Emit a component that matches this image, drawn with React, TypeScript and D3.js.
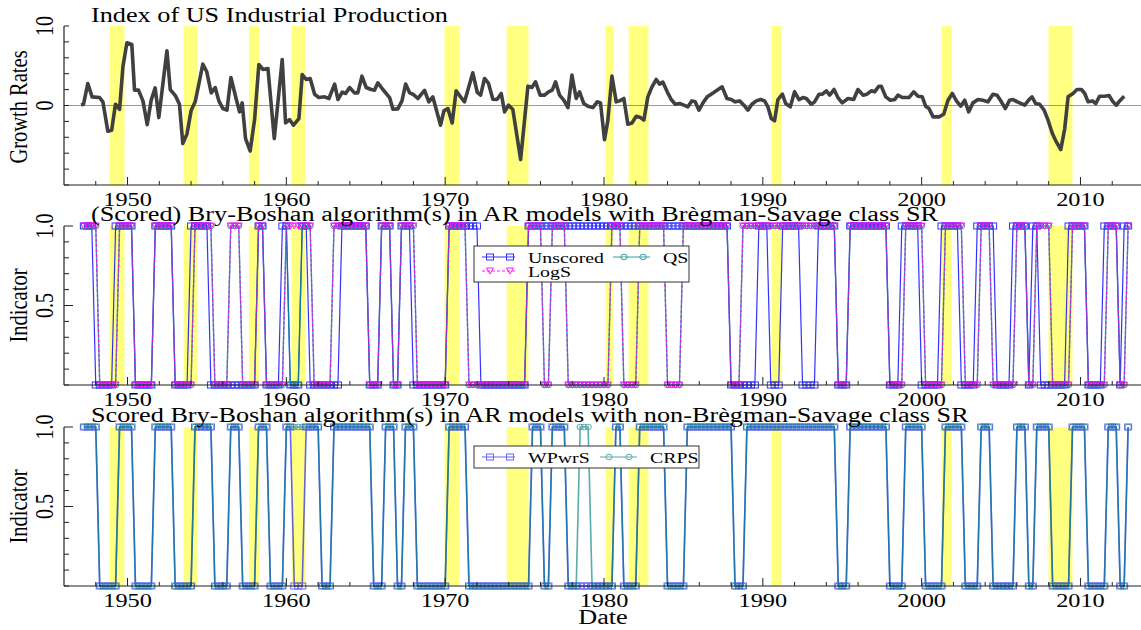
import React from 'react';
import * as d3 from 'd3';

// NBER recessions (decimal years)
const recessions: [number, number][] = [
  [1948.87, 1949.81], [1953.53, 1954.39], [1957.64, 1958.29], [1960.33, 1961.19],
  [1969.96, 1970.89], [1973.87, 1975.25], [1980.1, 1980.58], [1981.55, 1982.8],
  [1990.55, 1991.16], [2001.26, 2001.89], [2007.99, 2009.5],
];

// growth rates of the industrial production index (vertices of the line)
const growthDates = [
  1947.08, 1947.23, 1947.5, 1947.77, 1948.24, 1948.45, 1948.76, 1949.0, 1949.24, 1949.5,
  1949.71, 1949.96, 1950.27, 1950.44, 1950.69, 1950.97, 1951.24, 1951.49, 1951.74, 1951.97,
  1952.48, 1952.69, 1953.02, 1953.27, 1953.48, 1953.74, 1954.01, 1954.26, 1954.53, 1954.74,
  1954.99, 1955.27, 1955.52, 1955.75, 1956.0, 1956.26, 1956.51, 1956.8, 1957.05, 1957.22,
  1957.43, 1957.72, 1958.0, 1958.27, 1958.52, 1958.84, 1959.24, 1959.74, 1959.95, 1960.2,
  1960.45, 1960.79, 1961.0, 1961.25, 1961.5, 1961.78, 1962.05, 1962.41, 1962.68, 1963.04,
  1963.25, 1963.52, 1963.73, 1963.98, 1964.29, 1964.5, 1964.76, 1965.03, 1965.34, 1965.55,
  1965.76, 1966.08, 1966.5, 1966.71, 1967.02, 1967.28, 1967.51, 1967.76, 1967.97, 1968.28,
  1968.7, 1968.97, 1969.22, 1969.71, 1969.92, 1970.17, 1970.44, 1970.69, 1970.97, 1971.22,
  1971.74, 1972.02, 1972.23, 1972.48, 1972.73, 1973.0, 1973.26, 1973.53, 1973.74, 1973.99,
  1974.26, 1974.75, 1975.21, 1975.46, 1975.69, 1975.98, 1976.26, 1976.51, 1976.74, 1976.95,
  1977.2, 1977.47, 1977.73, 1977.98, 1978.25, 1978.46, 1978.73, 1978.99, 1979.3, 1979.57,
  1979.78, 1980.03, 1980.24, 1980.5, 1980.77, 1980.98, 1981.25, 1981.5, 1981.76, 1982.03,
  1982.3, 1982.51, 1982.76, 1983.02, 1983.29, 1983.5, 1983.71, 1983.98, 1984.23, 1984.49,
  1984.76, 1985.03, 1985.28, 1985.53, 1985.74, 1985.98, 1986.23, 1986.5, 1986.75, 1987.07,
  1987.44, 1987.74, 1988.01, 1988.26, 1988.54, 1988.81, 1989.06, 1989.31, 1989.59, 1989.86,
  1990.11, 1990.32, 1990.53, 1990.74, 1990.95, 1991.23, 1991.44, 1991.73, 1992.0, 1992.28,
  1992.53, 1992.74, 1993.05, 1993.26, 1993.54, 1993.75, 1994.0, 1994.21, 1994.48, 1994.73,
  1995.0, 1995.36, 1995.72, 1995.99, 1996.31, 1996.56, 1996.83, 1997.04, 1997.31, 1997.46,
  1997.74, 1998.03, 1998.3, 1998.51, 1998.78, 1999.2, 1999.5, 1999.77, 2000.04, 2000.25,
  2000.46, 2000.72, 2001.09, 2001.39, 2001.66, 2001.93, 2002.19, 2002.46, 2002.71, 2002.96,
  2003.23, 2003.55, 2003.86, 2004.18, 2004.49, 2004.75, 2005.02, 2005.27, 2005.54, 2005.75,
  2006.03, 2006.49, 2006.76, 2006.95, 2007.18, 2007.43, 2007.71, 2007.96, 2008.23, 2008.48,
  2008.76, 2009.01, 2009.22, 2009.53, 2009.78, 2010.06, 2010.27, 2010.48, 2010.75, 2010.96,
  2011.21, 2011.53, 2011.8, 2012.05, 2012.26, 2012.47, 2012.75,
];
const growthValues = [
  0.04, 0.16, 2.77, 1.09, 1.0, 0.46, -3.24, -3.11, 0.16, -0.47,
  4.87, 7.9, 7.69, 1.93, 1.93, 0.58, -2.4, 0.67, 2.22, -1.52,
  6.89, 2.01, 1.21, 0.16, -4.79, -3.6, -0.59, 0.46, 3.1, 5.2,
  4.24, 1.59, 2.26, 0.58, -0.38, -0.59, 3.52, 1.17, -0.8, 0.33,
  -4.16, -5.72, -1.77, 5.16, 4.53, 4.66, -4.16, 5.79, -2.19, -1.77,
  -2.48, -1.64, 3.9, 3.27, 3.4, 1.42, 1.0, 1.09, 0.88, 2.69,
  0.75, 1.68, 1.51, 2.26, 1.59, 1.59, 3.69, 2.26, 2.01, 1.93,
  2.85, 2.01, 1.0, -0.47, -0.42, 0.58, 2.69, 1.59, 1.42, 0.88,
  1.9, 0.46, 1.09, -2.48, -0.68, -0.38, -2.19, 1.85, 1.09, 0.46,
  4.11, 1.64, 1.3, 3.4, 2.77, 0.79, 0.75, 1.51, -0.8, 0.04,
  -0.51, -6.8, 2.43, 2.26, 2.98, 1.3, 1.3, 1.72, 1.93, 2.98,
  1.3, 0.67, -0.26, 3.82, 0.88, 1.72, 0.25, -0.09, -0.26, 0.46,
  0.33, -4.29, -1.93, 3.69, 0.46, 0.58, 0.88, -2.35, -2.19, -1.35,
  -1.52, -1.85, 1.09, 2.35, 3.27, 2.69, 2.94, 1.72, 0.75, 0.16,
  0.25, 0.04, -0.17, 0.58, 0.46, -0.59, 0.33, 1.09, 1.42, 1.85,
  2.35, 0.88, 0.75, 0.46, 0.58, 0.04, -0.59, 0.16, 0.58, 0.75,
  0.58, -0.17, -1.64, -1.93, 0.75, 1.42, 0.25, -0.17, 1.72, 0.75,
  1.0, 0.88, 0.16, 0.46, 1.42, 1.42, 1.85, 1.3, 2.01, 1.0,
  0.33, 0.88, 0.75, 2.01, 1.3, 1.42, 1.85, 1.72, 2.43, 2.43,
  1.09, 0.67, 0.75, 1.3, 1.0, 1.0, 1.72, 1.17, 1.09, -0.09,
  -0.38, -1.43, -1.43, -1.1, 0.67, 1.51, 0.58, -0.09, 0.67, -0.8,
  0.33, 0.75, 0.67, 0.46, 1.42, 1.3, 0.46, -0.38, 0.67, 0.75,
  0.46, 0.04, 0.75, 1.09, 0.25, 0.16, -0.59, -1.85, -3.53, -4.58,
  -5.54, -2.9, 1.09, 1.51, 2.01, 2.01, 1.51, 0.46, 0.58, 0.25,
  1.17, 1.17, 1.26, 0.46, 0.04, 0.58, 1.17,
];

// quarterly dates of the indicator series
const quarterDates = d3.range(264).map((i) => 1947.25 + i * 0.25);

// turning points (first quarter of each new phase); every series starts in phase 1
const unscoredTurns = [
  1948.0, 1949.25, 1950.5, 1951.75, 1953.0, 1954.0, 1955.25, 1958.25, 1958.75, 1959.75,
  1960.25, 1961.0, 1961.5, 1963.5, 1965.25, 1966.0, 1966.75, 1967.25, 1968.0, 1970.25,
  1972.25, 1975.25, 1988.0, 1989.75, 1990.5, 1991.25, 1992.5, 1993.5, 1994.75, 1995.5,
  1998.0, 1998.75, 2000.0, 2001.25, 2002.5, 2003.5, 2004.75, 2005.75, 2006.75, 2007.0,
  2007.5, 2009.25, 2010.5, 2011.5, 2012.5, 2012.75,
];
const logsTurns = [
  1948.25, 1949.5, 1950.5, 1951.75, 1953.0, 1954.25, 1955.5, 1956.5, 1957.25, 1958.25,
  1958.75, 1960.0, 1961.75, 1963.0, 1965.25, 1966.0, 1966.75, 1967.25, 1968.25, 1970.25,
  1971.5, 1975.25, 1976.25, 1976.75, 1977.75, 1980.5, 1981.25, 1982.25, 1984.0, 1985.0,
  1988.0, 1988.75, 1994.75, 1995.5, 1998.0, 1999.0, 2000.25, 2001.5, 2002.75, 2003.75,
  2004.5, 2006.0, 2006.75, 2007.25, 2008.25, 2009.5, 2010.5, 2011.75, 2012.5, 2013.0,
];
const qsTurns = [
  1948.25, 1949.5, 1950.5, 1951.75, 1953.0, 1954.25, 1955.5, 1956.5, 1957.25, 1958.25,
  1958.75, 1960.0, 1960.25, 1961.0, 1961.75, 1963.0, 1965.25, 1966.0, 1966.75, 1967.25,
  1968.25, 1970.25, 1971.5, 1975.25, 1976.25, 1976.75, 1977.75, 1980.5, 1981.25, 1982.25,
  1984.0, 1985.0, 1988.0, 1988.75, 1994.75, 1995.5, 1998.0, 1999.0, 2000.25, 2001.5,
  2002.75, 2003.75, 2004.5, 2006.0, 2006.75, 2007.25, 2008.25, 2009.5, 2010.5, 2011.75,
  2012.5, 2013.0,
];
const wpwrsTurns = [
  1948.25, 1949.5, 1950.5, 1951.75, 1953.0, 1954.25, 1955.5, 1956.5, 1957.25, 1958.25,
  1959.0, 1960.0, 1960.5, 1961.25, 1962.25, 1963.0, 1965.5, 1966.25, 1967.0, 1967.5,
  1968.25, 1970.25, 1971.5, 1975.5, 1976.25, 1976.75, 1977.75, 1980.75, 1981.25, 1982.25,
  1984.0, 1985.25, 1988.25, 1989.0, 1994.75, 1995.5, 1998.0, 1999.0, 2000.25, 2001.5,
  2002.75, 2003.75, 2004.5, 2006.0, 2006.75, 2007.25, 2008.25, 2009.5, 2010.5, 2011.75,
  2012.5, 2013.0,
];
const crpsTurns = [
  1948.25, 1949.5, 1950.5, 1951.75, 1953.0, 1954.25, 1955.5, 1956.5, 1957.25, 1958.25,
  1959.0, 1960.0, 1962.25, 1963.0, 1965.5, 1966.25, 1967.0, 1967.5, 1968.25, 1970.25,
  1971.5, 1975.5, 1976.25, 1976.75, 1977.75, 1978.5, 1979.25, 1980.75, 1981.25, 1982.25,
  1984.0, 1985.25, 1988.25, 1989.0, 1994.75, 1995.5, 1998.0, 1999.0, 2000.25, 2001.5,
  2002.75, 2003.75, 2004.5, 2006.0, 2006.75, 2007.25, 2008.25, 2009.5, 2010.5, 2011.75,
  2012.5, 2013.0,
];

const xTicks = d3.range(1948, 2014, 2);
const xLabels = [1950, 1960, 1970, 1980, 1990, 2000, 2010];

const W = 1141;
const H = 630;
const SX = 1.28; // the picture is stretched horizontally
const FONT = '"Liberation Serif", "Times New Roman", Times, serif';
const YELLOW = '#ffff80';

const x = d3.scaleLinear().domain([1946, 2014]).range([64, 1144]);

type Pt = { t: number; v: number };
const indicator = (turns: number[]): Pt[] =>
  quarterDates.map((t) => ({ t, v: turns.filter((s) => s <= t + 1e-6).length % 2 === 0 ? 1 : 0 }));

function Txt(props: { x: number; y: number; size?: number; anchor?: string; rot?: boolean; children: any }) {
  const { x: tx, y: ty, size = 20, anchor = 'start', rot = false, children } = props;
  return (
    <text
      transform={`translate(${tx},${ty}) scale(${SX},1)${rot ? ' rotate(-90)' : ''}`}
      fontSize={size}
      textAnchor={anchor}
      fontFamily={FONT}
      fill="#000"
    >
      {children}
    </text>
  );
}

function marker(kind: string, cx: number, cy: number, color: string, key: string) {
  if (kind === 'square')
    return <rect key={key} x={cx - 3.5} y={cy - 3} width={7} height={6} fill="none" stroke={color} strokeWidth={1} />;
  if (kind === 'circle')
    return <ellipse key={key} cx={cx} cy={cy} rx={3.2} ry={2.8} fill="none" stroke={color} strokeWidth={1} />;
  return (
    <path key={key} d={`M${cx - 3.5},${cy - 3}L${cx + 3.5},${cy - 3}L${cx},${cy + 3}Z`} fill="none" stroke={color} strokeWidth={1} />
  );
}

function XAxis({ bottom }: { bottom: number }) {
  return (
    <g>
      <line x1={64} x2={W} y1={bottom} y2={bottom} stroke="#222" strokeWidth={1.2} />
      {xTicks.map((t) => (
        <line key={t} x1={x(t)} x2={x(t)} y1={bottom} y2={bottom - (t % 10 === 0 ? 8 : 4)} stroke="#222" />
      ))}
      {xLabels.map((t) => (
        <Txt key={t} x={x(t)} y={bottom + 21} size={19} anchor="middle">{t}</Txt>
      ))}
    </g>
  );
}

function Bands({ top, bottom }: { top: number; bottom: number }) {
  return (
    <g>
      {recessions.map(([a, b], i) => (
        <rect key={i} x={x(a)} y={top} width={x(b) - x(a)} height={bottom - top} fill={YELLOW} />
      ))}
    </g>
  );
}

type Series = { name: string; turns: number[]; color: string; kind: string; dash?: string; opacity: number; width: number };

function IndicatorPanel({ top, bottom, series, title }: { top: number; bottom: number; series: Series[]; title: string }) {
  const y = d3.scaleLinear().domain([0, 1]).range([bottom, top]);
  const yTicks = d3.range(0, 11).map((i) => i / 10);
  return (
    <g>
      <Bands top={top} bottom={bottom} />
      {series.map((s) => {
        const pts = indicator(s.turns);
        const line = d3.line<Pt>().x((d) => x(d.t)).y((d) => y(d.v));
        return (
          <g key={s.name} opacity={s.opacity}>
            <path d={line(pts) || ''} fill="none" stroke={s.color} strokeWidth={s.width} strokeDasharray={s.dash} />
            {pts.map((d, i) => marker(s.kind, x(d.t), y(d.v), s.color, s.name + i))}
          </g>
        );
      })}
      <line x1={64} x2={64} y1={top} y2={bottom} stroke="#222" strokeWidth={1.2} />
      {yTicks.map((t) => (
        <line key={t} x1={64} x2={64 + (Math.abs(t - 0.5) < 1e-6 || t === 1 ? 9 : 5)} y1={y(t)} y2={y(t)} stroke="#222" />
      ))}
      <Txt x={53} y={y(1)} rot anchor="middle">1.0</Txt>
      <Txt x={53} y={y(0.5)} rot anchor="middle">0.5</Txt>
      <Txt x={27} y={(top + bottom) / 2} rot anchor="middle" size={20.5}>Indicator</Txt>
      <XAxis bottom={bottom} />
    </g>
  );
}

const panel2: Series[] = [
  { name: 'Unscored', turns: unscoredTurns, color: '#0000ff', kind: 'square', opacity: 0.8, width: 1.2 },
  { name: 'QS', turns: qsTurns, color: '#008b8b', kind: 'circle', opacity: 0.8, width: 1.4 },
  { name: 'LogS', turns: logsTurns, color: '#ff00ff', kind: 'triangle', dash: '3,2', opacity: 0.9, width: 1.2 },
];
const panel3: Series[] = [
  { name: 'WPwrS', turns: wpwrsTurns, color: '#0000ff', kind: 'square', opacity: 0.6, width: 1.6 },
  { name: 'CRPS', turns: crpsTurns, color: '#008080', kind: 'circle', opacity: 0.65, width: 1.6 },
];

function LegendItem({ x0, x1, y, s, label, m }: { x0: number; x1: number; y: number; s: Series; label: string; m: number[] }) {
  return (
    <g>
      <g opacity={s.opacity}>
        <line x1={x0} x2={x1} y1={y} y2={y} stroke={s.color} strokeWidth={1.2} strokeDasharray={s.dash} />
        {m.map((mx, i) => marker(s.kind, mx, y, s.color, label + i))}
      </g>
      <Txt x={x1 + 13} y={y + 5.5} size={15.5}>{label}</Txt>
    </g>
  );
}

export default function App() {
  const top1 = 26;
  const bottom1 = 185;
  const y1 = d3.scaleLinear().domain([-10, 10]).range([bottom1, top1]);
  const growthLine = d3
    .line<number>()
    .x((_, i) => x(growthDates[i]))
    .y((d) => y1(d));

  return (
    <svg width={W} height={H} style={{ position: 'absolute', left: 0, top: 0, background: '#fff' }}>
      {/* panel 1 */}
      <Bands top={top1} bottom={bottom1} />
      <line x1={64} x2={W} y1={y1(0)} y2={y1(0)} stroke="#999" strokeWidth={1} />
      <path d={growthLine(growthValues) || ''} fill="none" stroke="#404040" strokeWidth={3.6} strokeLinejoin="round" />
      <line x1={64} x2={64} y1={top1} y2={bottom1} stroke="#222" strokeWidth={1.2} />
      {d3.range(-10, 11, 2).map((t) => (
        <line key={t} x1={64} x2={69} y1={y1(t)} y2={y1(t)} stroke="#222" />
      ))}
      <Txt x={53} y={y1(10)} rot anchor="middle">10</Txt>
      <Txt x={53} y={y1(0)} rot anchor="middle">0</Txt>
      <Txt x={27} y={107} rot anchor="middle" size={20.5}>Growth Rates</Txt>
      <XAxis bottom={bottom1} />

      {/* panel 2 */}
      <IndicatorPanel top={226} bottom={385} series={panel2} title="" />
      <rect x={474} y={246} width={215} height={36} fill="#fff" stroke="#333" strokeWidth={1} />
      <LegendItem x0={482} x1={515} y={257} s={panel2[0]} label="Unscored" m={[490, 510]} />
      <LegendItem x0={613} x1={650} y={257} s={panel2[1]} label="QS" m={[624, 643]} />
      <LegendItem x0={482} x1={515} y={271} s={panel2[2]} label="LogS" m={[490, 510]} />

      {/* panel 3 */}
      <IndicatorPanel top={427} bottom={586} series={panel3} title="" />
      <rect x={474} y={446} width={225} height={22} fill="#fff" stroke="#333" strokeWidth={1} />
      <LegendItem x0={482} x1={515} y={457} s={panel3[0]} label="WPwrS" m={[490, 510]} />
      <LegendItem x0={600} x1={637} y={457} s={panel3[1]} label="CRPS" m={[609, 629]} />

      <Txt x={603} y={624} anchor="middle" size={20.5}>Date</Txt>

      {/* titles on top */}
      <Txt x={91} y={22} size={20.5}>Index of US Industrial Production</Txt>
      <Txt x={91} y={221} size={20.5}>(Scored) Bry-Boshan algorithm(s) in AR models with Brègman-Savage class SR</Txt>
      <Txt x={91} y={422} size={20.5}>Scored Bry-Boshan algorithm(s) in AR models with non-Brègman-Savage class SR</Txt>
    </svg>
  );
}
